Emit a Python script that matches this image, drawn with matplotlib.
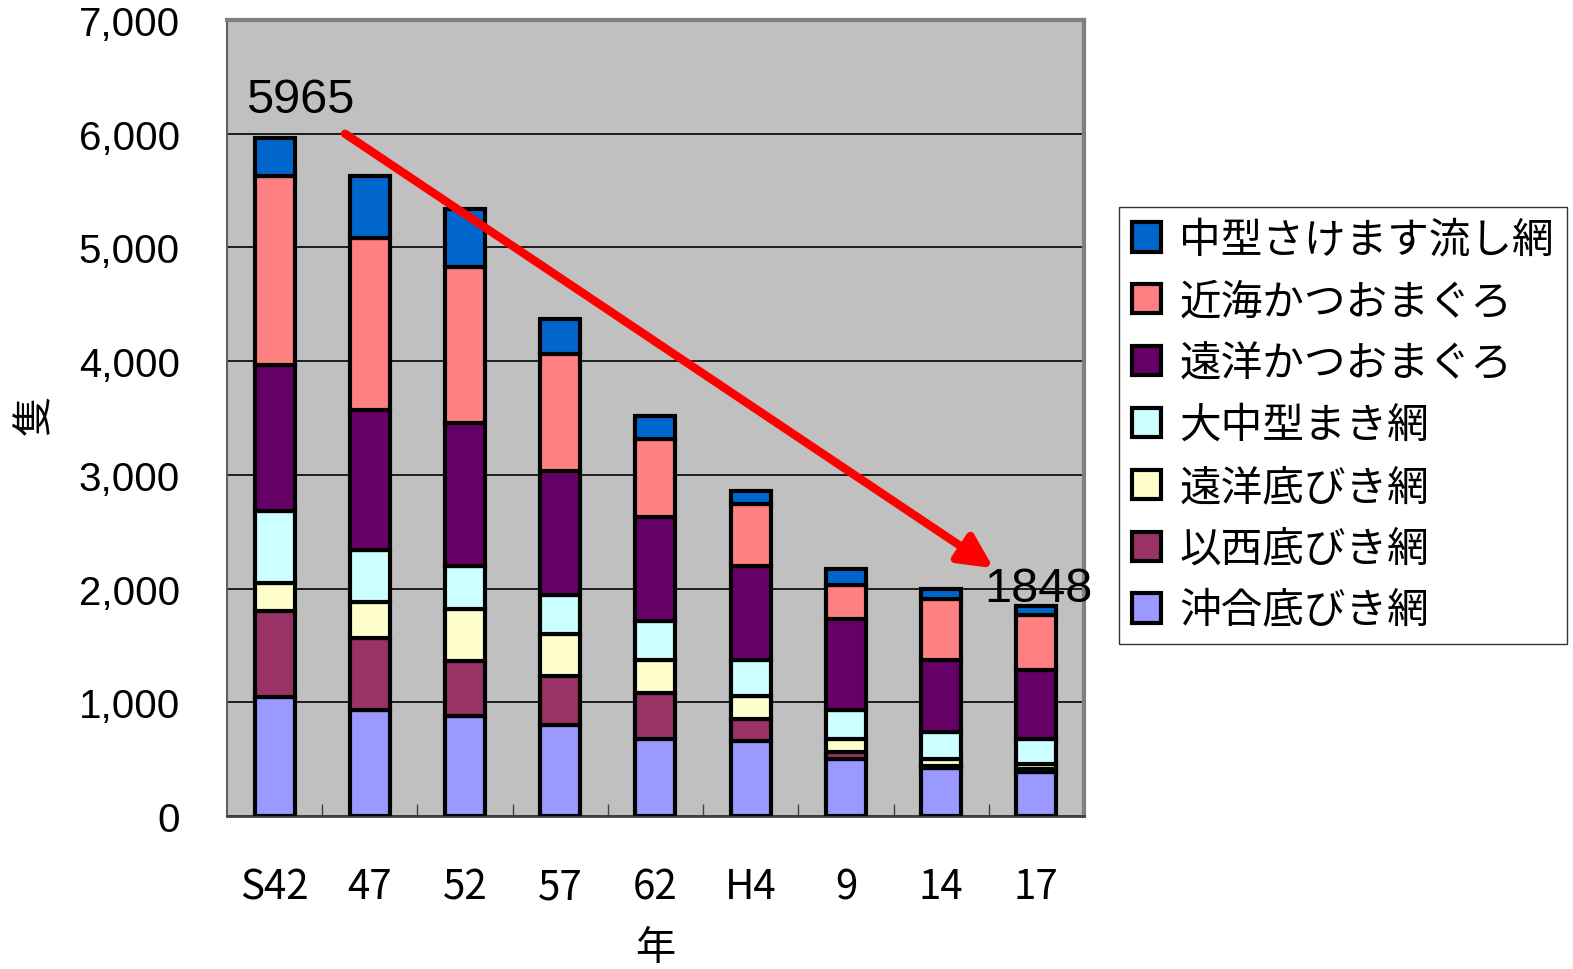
import numpy as np
import matplotlib.pyplot as plt
from matplotlib.ticker import FuncFormatter

# データ（隻数）
years = ['S42', '47', '52', '57', '62', 'H4', '9', '14', '17']
okiai = [1050, 930, 880, 800, 680, 660, 505, 420, 390]        # 沖合底びき網
isei = [750, 635, 485, 430, 405, 195, 55, 20, 25]             # 以西底びき網
enyo_soko = [250, 315, 460, 370, 290, 200, 120, 60, 40]       # 遠洋底びき網
daichu = [630, 460, 375, 345, 340, 315, 255, 235, 225]        # 大中型まき網
enyo_katsuo = [1290, 1230, 1255, 1085, 915, 830, 800, 635, 600]  # 遠洋かつおまぐろ
kinkai_katsuo = [1660, 1515, 1375, 1030, 685, 545, 295, 540, 490]  # 近海かつおまぐろ
chugata = [335, 545, 510, 315, 205, 115, 140, 85, 78]         # 中型さけます流し網

series = [okiai, isei, enyo_soko, daichu, enyo_katsuo, kinkai_katsuo, chugata]
names = ['沖合底びき網', '以西底びき網', '遠洋底びき網', '大中型まき網',
         '遠洋かつおまぐろ', '近海かつおまぐろ', '中型さけます流し網']
colors = ['#9999FF', '#993366', '#FFFFCC', '#CCFFFF', '#660066', '#FF8080', '#0066CC']

plt.rcParams['font.family'] = ['Liberation Sans', 'Noto Sans CJK JP', 'DejaVu Sans']
jp = ['Noto Sans CJK JP', 'DejaVu Sans']

fig = plt.figure(figsize=(15.73, 9.70), dpi=100)
ax = fig.add_axes([0.1443, 0.1577, 0.5448, 0.8206])
ax.set_facecolor('#C0C0C0')

x = np.arange(len(years))
bottom = np.zeros(len(years))
handles = []
for vals, name, c in zip(series, names, colors):
    b = ax.bar(x, vals, width=0.42, bottom=bottom, color=c,
               edgecolor='black', linewidth=3, label=name, zorder=3)
    handles.append(b)
    bottom += np.array(vals)

ax.set_xlim(-0.5, len(years) - 0.5)
ax.set_ylim(0, 7000)
ax.set_yticks(np.arange(0, 7001, 1000))
ax.yaxis.set_major_formatter(FuncFormatter(lambda v, p: '{:,.0f}'.format(v)))
ax.grid(axis='y', color='black', linewidth=1.2, zorder=1)
ax.tick_params(axis='y', length=0, pad=34, labelsize=29)

ax.set_xticks(x)
ax.set_xticklabels(years, fontfamily=jp)
ax.tick_params(axis='x', length=0, pad=36, labelsize=29)
ax.set_xticks(np.arange(0.5, len(years) - 0.5), minor=True)
ax.tick_params(axis='x', which='minor', direction='in', length=9, width=1, color='#404040')

for side in ['top', 'right']:
    ax.spines[side].set_color('#808080')
    ax.spines[side].set_linewidth(3)
ax.spines['left'].set_color('#606060')
ax.spines['left'].set_linewidth(1.5)
ax.spines['bottom'].set_color('#404040')
ax.spines['bottom'].set_linewidth(2)

ax.set_xlabel('年', fontfamily=jp, fontsize=29)
ax.xaxis.set_label_coords(0.5, -0.14)
ax.set_ylabel('隻', fontfamily=jp, fontsize=29)
ax.yaxis.set_label_coords(-0.20, 0.505)

# 減少を示す矢印
total = bottom
ax.annotate('', xy=(7.55, 2180), xytext=(0.74, 6000),
            arrowprops=dict(arrowstyle='-|>,head_length=2.0,head_width=1.0',
                            color='#FF0000', lw=6, shrinkA=0, shrinkB=0), zorder=5)
ax.text(-0.3, 6300, '{:.0f}'.format(total[0]), fontsize=35, va='center', ha='left', zorder=6)
ax.text(7.45, 2000, '{:.0f}'.format(total[-1]), fontsize=35, va='center', ha='left', zorder=6)

leg = fig.legend(handles[::-1], names[::-1], loc='upper left',
                 bbox_to_anchor=(1119 / 1573, 1 - 208 / 970),
                 prop={'family': jp, 'size': 30}, frameon=True, fancybox=False,
                 edgecolor='black', handlelength=0.7, handleheight=0.7,
                 handletextpad=0.45, labelspacing=0.5, borderpad=0.3,
                 borderaxespad=0)
leg.get_frame().set_linewidth(1)

fig.savefig('out.png', dpi=100)
